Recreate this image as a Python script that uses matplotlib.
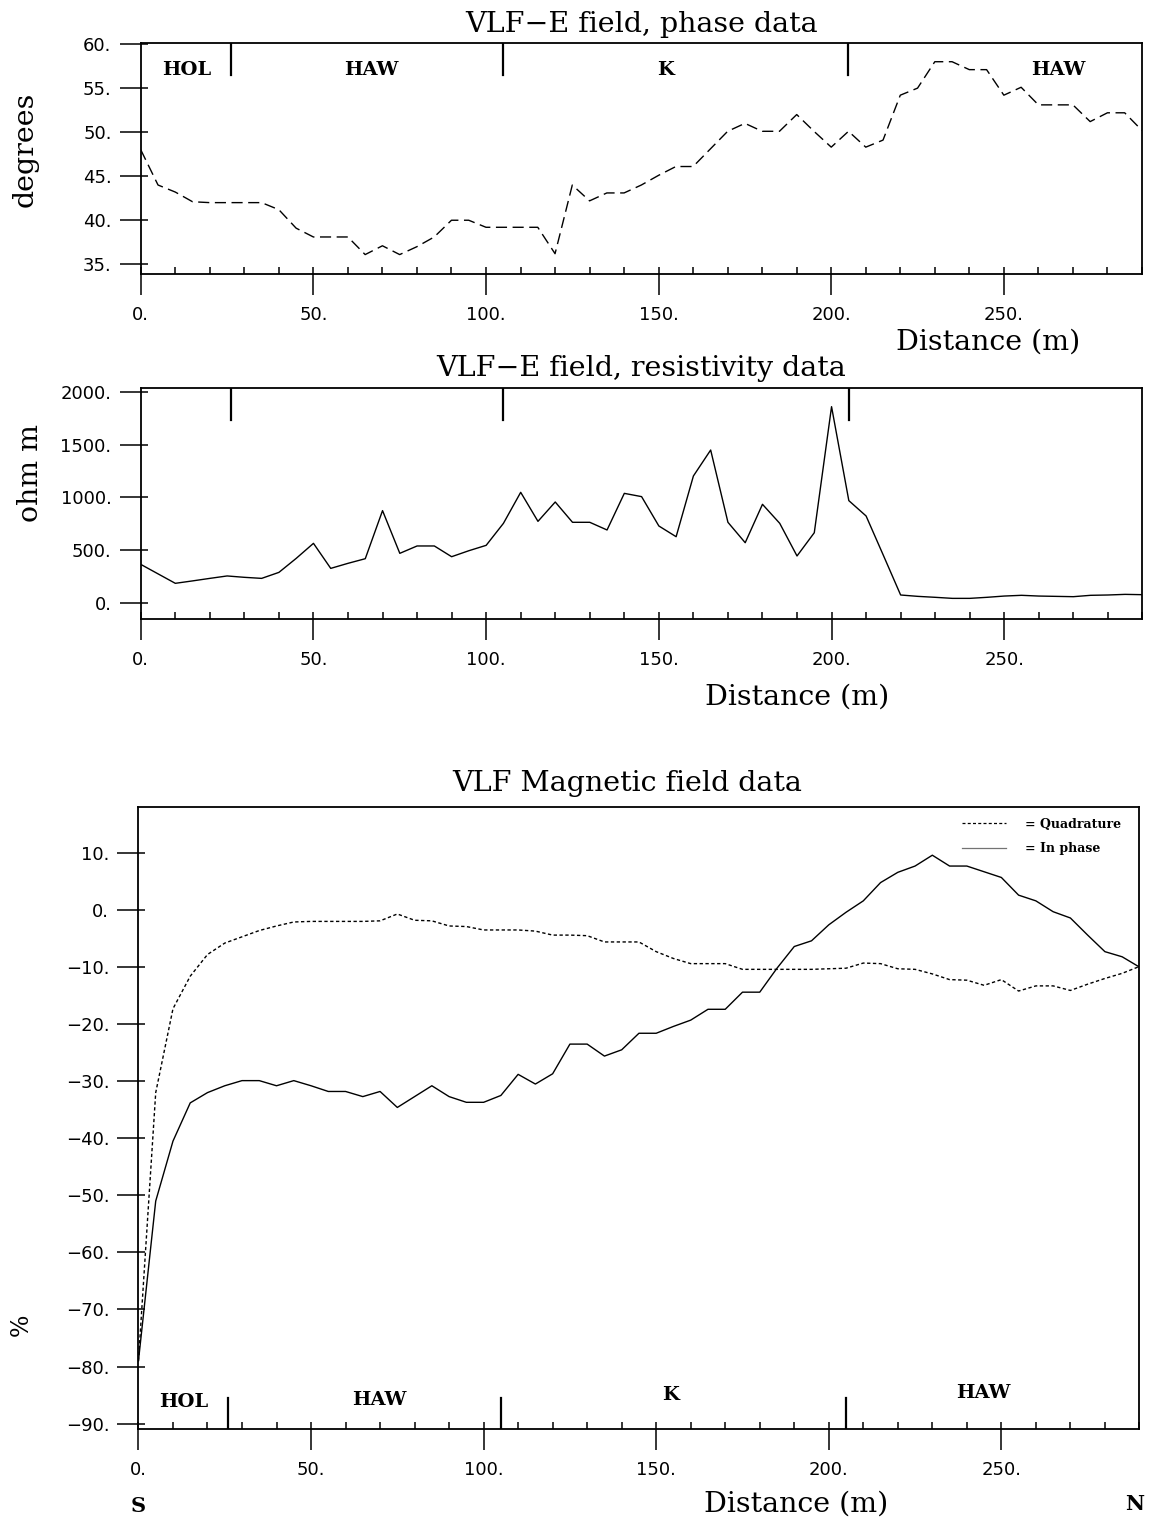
import matplotlib.pyplot as plt
from matplotlib.ticker import MultipleLocator, FixedLocator, FuncFormatter
from matplotlib.lines import Line2D
import numpy as np

# station positions along the profile (m)
distance = np.arange(0, 295, 5)

# VLF-E phase (degrees)
phase = [48.0, 44.0, 43.2, 42.1, 42.0, 42.0, 42.0, 42.0, 41.2, 39.1,
         38.1, 38.1, 38.1, 36.1, 37.1, 36.1, 37.0, 38.1, 40.0, 40.0,
         39.2, 39.2, 39.2, 39.2, 36.2, 44.0, 42.2, 43.1, 43.1, 44.0,
         45.1, 46.1, 46.1, 48.1, 50.1, 51.0, 50.1, 50.1, 52.0, 50.1,
         48.3, 50.1, 48.3, 49.1, 54.2, 55.0, 58.0, 58.0, 57.1, 57.1,
         54.2, 55.1, 53.1, 53.1, 53.1, 51.2, 52.2, 52.2, 50.2]

# VLF-E apparent resistivity (ohm m)
resistivity = [364, 274, 184, 207, 231, 254, 241, 231, 288, 421,
               564, 326, 374, 418, 875, 469, 539, 539, 437, 494,
               545, 754, 1049, 773, 957, 764, 764, 691, 1039, 1008,
               729, 627, 1204, 1451, 764, 570, 935, 754, 444, 665,
               1863, 970, 824, 450, 73, 60, 51, 41, 41, 51,
               63, 70, 63, 60, 57, 70, 73, 79, 76]

# VLF magnetic field (%)
quadrature = [-79, -32, -17.3, -11.6, -7.8, -5.8, -4.7, -3.6, -2.8, -2.1,
              -2.0, -2.0, -2.0, -2.0, -1.9, -0.7, -1.8, -1.9, -2.8, -2.9,
              -3.5, -3.5, -3.5, -3.7, -4.4, -4.4, -4.5, -5.6, -5.6, -5.6,
              -7.3, -8.5, -9.4, -9.4, -9.4, -10.4, -10.4, -10.4, -10.4, -10.4,
              -10.3, -10.2, -9.3, -9.4, -10.3, -10.4, -11.2, -12.2, -12.3, -13.2,
              -12.2, -14.2, -13.3, -13.3, -14.1, -13.0, -12.0, -11.1, -9.9]
in_phase = [-79, -51, -40.5, -33.8, -32.0, -30.8, -29.9, -29.9, -30.8, -29.9,
            -30.8, -31.8, -31.8, -32.7, -31.8, -34.6, -32.7, -30.8, -32.7, -33.7,
            -33.7, -32.5, -28.8, -30.5, -28.7, -23.5, -23.5, -25.6, -24.5, -21.6,
            -21.6, -20.4, -19.3, -17.4, -17.4, -14.4, -14.4, -10.2, -6.4, -5.4,
            -2.6, -0.4, 1.6, 4.8, 6.6, 7.7, 9.6, 7.7, 7.7, 6.7,
            5.7, 2.6, 1.6, -0.3, -1.4, -4.4, -7.3, -8.2, -10.0]

# geological units
unit_bounds = [26, 105, 205]
unit_names = ['HOL', 'HAW', 'K', 'HAW']
unit_x_top = [13.4, 66.8, 152, 265.8]
unit_x_bottom = [13.1, 69.7, 154.2, 244.7]

serif = 'DejaVu Serif'
plt.rcParams['font.family'] = 'DejaVu Sans'
big = 20.5

fig = plt.figure(figsize=(11.5, 15.22), dpi=100)
ax1 = fig.add_axes([0.1224, 0.8200, 0.8706, 0.1516])
ax2 = fig.add_axes([0.1224, 0.5931, 0.8710, 0.1518])
ax3 = fig.add_axes([0.1204, 0.0609, 0.8704, 0.4087])


def fmt(v, pos):
    return ('%d.' % round(v)).replace('-', '\u2212')


def style(ax, yticks, ylim):
    ax.set_xlim(0, 290)
    ax.set_ylim(*ylim)
    ax.xaxis.set_major_locator(FixedLocator([0, 50, 100, 150, 200, 250]))
    ax.xaxis.set_minor_locator(MultipleLocator(10))
    ax.xaxis.remove_overlapping_locs = False
    ax.yaxis.set_major_locator(FixedLocator(yticks))
    ax.yaxis.set_minor_locator(FixedLocator(yticks))
    ax.yaxis.remove_overlapping_locs = False
    ax.xaxis.set_major_formatter(FuncFormatter(fmt))
    ax.yaxis.set_major_formatter(FuncFormatter(fmt))
    ax.tick_params(which='major', direction='out', length=15, width=1.1,
                   labelsize=13)
    ax.tick_params(axis='x', which='major', pad=8)
    ax.tick_params(axis='y', which='major', pad=6)
    ax.tick_params(which='minor', direction='in', length=5, width=1.1)
    for sp in ax.spines.values():
        sp.set_linewidth(1.3)


# --- phase
style(ax1, [35, 40, 45, 50, 55, 60], (33.9, 60.1))
ax1.plot(distance, phase, color='k', lw=1.0, ls=(0, (8, 4)))
for b in unit_bounds:
    ax1.axvline(b, ymin=1 - 0.137, ymax=1, color='k', lw=1.6)
for name, x in zip(unit_names, unit_x_top):
    ax1.text(x, 0.886, name, transform=ax1.get_xaxis_transform(), ha='center',
             va='center', fontfamily=serif, fontweight='bold', fontsize=14)
ax1.set_title('VLF\u2212E field, phase data', fontfamily=serif, fontsize=big, pad=8.4)
ax1.text(0.846, -0.329, 'Distance (m)', transform=ax1.transAxes, ha='center',
         va='baseline', fontfamily=serif, fontsize=big)
ax1.text(-0.115, 0.542, 'degrees', transform=ax1.transAxes, rotation=90,
         ha='center', va='center', fontfamily=serif, fontsize=big)

# --- resistivity
style(ax2, [0, 500, 1000, 1500, 2000], (-158, 2038))
ax2.plot(distance, resistivity, color='k', lw=1.0)
for b in unit_bounds:
    ax2.axvline(b, ymin=1 - 0.139, ymax=1, color='k', lw=1.6)
ax2.set_title('VLF\u2212E field, resistivity data', fontfamily=serif, fontsize=big, pad=8.6)
ax2.text(0.655, -0.371, 'Distance (m)', transform=ax2.transAxes, ha='center',
         va='baseline', fontfamily=serif, fontsize=big)
ax2.text(-0.110, 0.633, 'ohm m', transform=ax2.transAxes, rotation=90,
         ha='center', va='center', fontfamily=serif, fontsize=big)

# --- magnetic field
style(ax3, list(range(-90, 11, 10)), (-91, 18))
ax3.plot(distance, quadrature, color='k', lw=1.0, ls=(0, (2.4, 1.8)))
ax3.plot(distance, in_phase, color='k', lw=1.0)
for b in unit_bounds:
    ax3.axvline(b, ymin=0, ymax=0.051, color='k', lw=1.6)
unit_y_bottom = [0.044, 0.047, 0.055, 0.059]
for name, x, y in zip(unit_names, unit_x_bottom, unit_y_bottom):
    ax3.text(x, y, name, transform=ax3.get_xaxis_transform(), ha='center',
             va='center', fontfamily=serif, fontweight='bold', fontsize=14)
ax3.set_title('VLF Magnetic field data', fontfamily=serif, fontsize=big, pad=12, x=0.488)
ax3.text(0.657, -0.1325, 'Distance (m)', transform=ax3.transAxes, ha='center',
         va='baseline', fontfamily=serif, fontsize=big)
ax3.text(-0.117, 0.168, '%', transform=ax3.transAxes, rotation=90,
         ha='center', va='center', fontfamily=serif, fontsize=17)
ax3.text(0.0, -0.1325, 'S', transform=ax3.transAxes, ha='center', va='baseline',
         fontfamily=serif, fontweight='bold', fontsize=15)
ax3.text(0.995, -0.1295, 'N', transform=ax3.transAxes, ha='center', va='baseline',
         fontfamily=serif, fontweight='bold', fontsize=15)

handles = [Line2D([], [], color='k', lw=0.9, ls=(0, (2.4, 1.8))),
           Line2D([], [], color='0.45', lw=0.9)]
ax3.legend(handles, ['= Quadrature', '= In phase'], loc='upper right',
           bbox_to_anchor=(0.9815, 0.983), frameon=False, borderpad=0,
           borderaxespad=0, handlelength=3.5, handletextpad=1.5, labelspacing=0.9,
           prop={'family': serif, 'weight': 'bold', 'size': 9})

fig.savefig('out.png', dpi=100)
